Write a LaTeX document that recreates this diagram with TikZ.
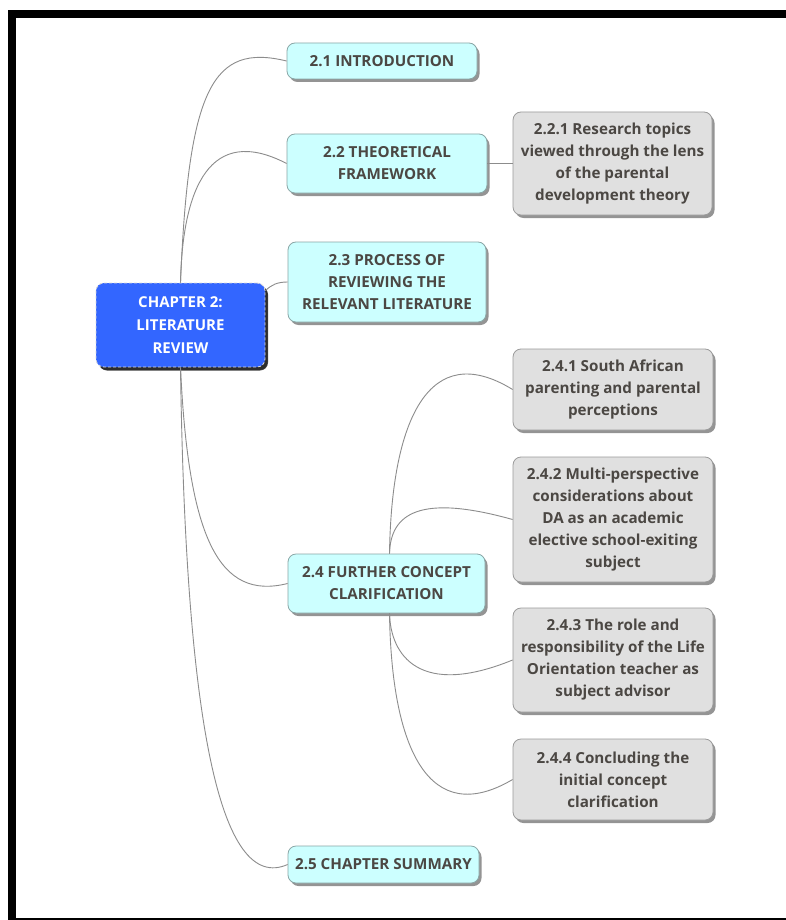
\documentclass[tikz,border=0pt]{standalone}
\usepackage{fontspec}
\setmainfont{Open Sans}
\usetikzlibrary{shadows}

\definecolor{topicfill}{HTML}{CCFFFF}
\definecolor{topicline}{HTML}{8AA6A6}
\definecolor{subfill}{HTML}{E0E0E0}
\definecolor{subline}{HTML}{9A9A9A}
\definecolor{rootfill}{HTML}{3366FF}
\definecolor{inktext}{HTML}{4B4743}
\definecolor{linkline}{HTML}{8C8C8C}

\begin{document}
\begin{tikzpicture}[x=1pt,y=-1pt,
  card/.style={rounded corners=8pt, line width=0.8pt, align=center,
    font=\fontsize{15.2}{22}\selectfont\bfseries, text=inktext, inner sep=0pt,
    drop shadow={shadow xshift=2.5pt, shadow yshift=-3pt, fill=black, opacity=0.42}},
  topic/.style={card, fill=topicfill, draw=topicline},
  subtopic/.style={card, fill=subfill, draw=subline},
  rootcard/.style={card, fill=rootfill, draw=white!85!black, densely dashed,
    text=white, font=\fontsize{15}{23}\selectfont\bfseries,
    drop shadow={shadow xshift=3pt, shadow yshift=-3.5pt, fill=black, opacity=0.7}},
  link/.style={draw=linkline, line width=0.9pt},
]
\useasboundingbox (0,0) rectangle (786,920);
\fill[white] (0,0) rectangle (786,920);

% page frame
\fill[black] (8,10) rectangle (786,18);
\fill[black] (8,10) rectangle (16,920);
\fill[black] (8,917.5) rectangle (786,920);

% central topic
\node[rootcard, minimum width=169pt, minimum height=84pt] (root) at (180.5,325)
  {CHAPTER 2:\\LITERATURE\\REVIEW};

% main topics
\node[topic, minimum width=190pt, minimum height=36pt] (n21) at (382,61)
  {2.1 INTRODUCTION};
\node[topic, minimum width=200pt, minimum height=59pt] (n22) at (387,163.5)
  {2.2 THEORETICAL\\FRAMEWORK};
\node[topic, minimum width=198pt, minimum height=80pt] (n23) at (387,282)
  {2.3 PROCESS OF\\REVIEWING THE\\RELEVANT LITERATURE};
\node[topic, minimum width=197pt, minimum height=59pt] (n24) at (386.5,583.5)
  {2.4 FURTHER CONCEPT\\CLARIFICATION};
\node[topic, minimum width=191pt, minimum height=37pt] (n25) at (383.5,864.5)
  {2.5 CHAPTER SUMMARY};

% subtopics
\node[subtopic, minimum width=199pt, minimum height=103pt] (n221) at (612.5,163.5)
  {2.2.1 Research topics\\viewed through the lens\\of the parental\\development theory};
\node[subtopic, minimum width=200pt, minimum height=81pt] (n241) at (613,389.5)
  {2.4.1 South African\\parenting and parental\\perceptions};
\node[subtopic, minimum width=200pt, minimum height=125pt] (n242) at (613,519.5)
  {2.4.2 Multi-perspective\\considerations about\\DA as an academic\\elective school-exiting\\subject};
\node[subtopic, minimum width=200pt, minimum height=104pt] (n243) at (613,660)
  {2.4.3 The role and\\responsibility of the Life\\Orientation teacher as\\subject advisor};
\node[subtopic, minimum width=200pt, minimum height=81pt] (n244) at (613,779.5)
  {2.4.4 Concluding the\\initial concept\\clarification};

% connectors from the central topic
\draw[link] (root.north) .. controls +(8,-195) and +(-74,-18) .. (n21.west);
\draw[link] (root.north) .. controls +(2,-94) and +(-77,-40) .. (n22.west);
\draw[link] (root.22.5) .. controls +(6,-6) and +(-10,0) .. (n23.west);
\draw[link] (root.south) .. controls +(8,173) and +(-68,17) .. (n24.west);
\draw[link] (root.south) .. controls +(5,353) and +(-68,30) .. (n25.west);

% connectors to subtopics
\draw[link] (n22.east) -- (n221.west);
\draw[link] ([xshift=3pt]n24.north) .. controls +(2,-135) and +(-83,-51) .. (n241.west);
\draw[link] ([xshift=3pt]n24.north) .. controls +(1,-40) and +(-93,-26) .. (n242.west);
\draw[link] ([xshift=3pt]n24.south) .. controls +(1,42) and +(-93,38) .. (n243.west);
\draw[link] ([xshift=3pt]n24.south) .. controls +(2,137) and +(-83,49) .. (n244.west);
\end{tikzpicture}
\end{document}
